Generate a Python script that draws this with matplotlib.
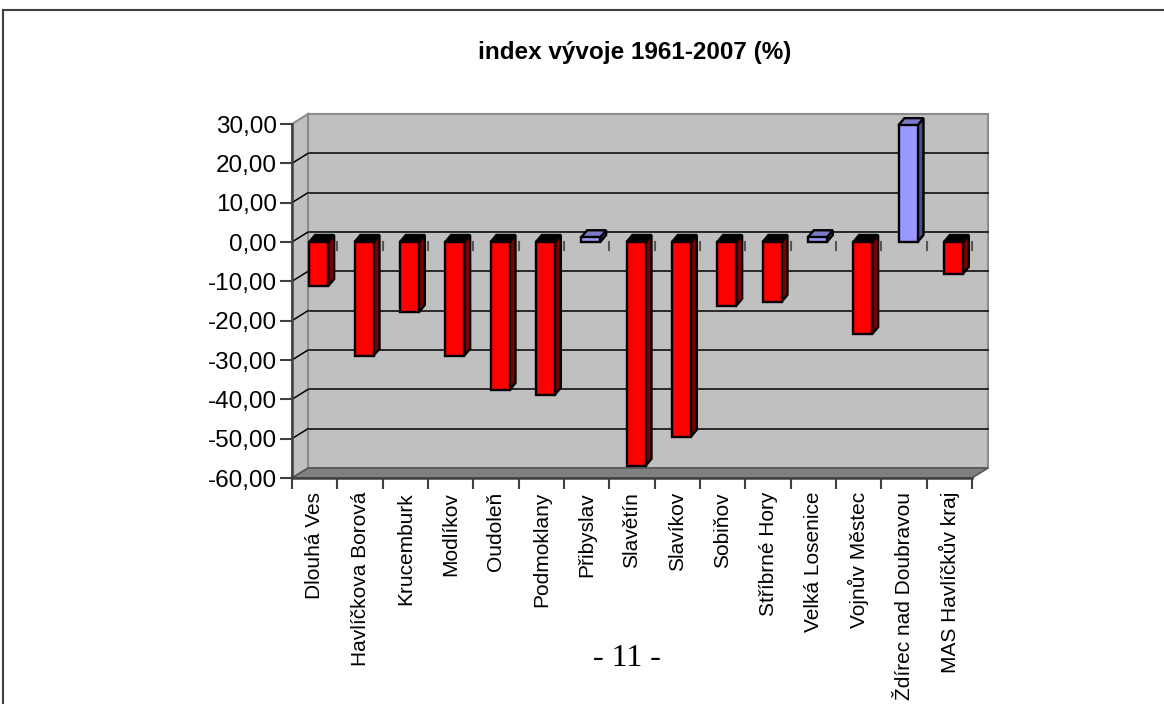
import matplotlib
matplotlib.use("Agg")
import matplotlib.pyplot as plt
from matplotlib.patches import Polygon


# ── Data ───────────────────────────────────────────────────────────
obce = ["Dlouhá Ves", "Havlíčkova Borová", "Krucemburk", "Modlíkov", "Oudoleň",
        "Podmoklany", "Přibyslav", "Slavětín", "Slavíkov", "Sobiňov",
        "Stříbrné Hory", "Velká Losenice", "Vojnův Městec", "Ždírec nad Doubravou",
        "MAS Havlíčkův kraj"]
index_vyvoje = [-11.2, -28.9, -17.8, -28.9, -37.6, -38.8, 1.2, -56.9, -49.5,
                -16.2, -15.2, 1.2, -23.4, 29.7, -8.1]
y_ticks = [30, 20, 10, 0, -10, -20, -30, -40, -50, -60]


# ── Look ───────────────────────────────────────────────────────────
WALL = "#c0c0c0"
FLOOR = "#808080"
EDGE = "#8c8c8c"
NEG_FRONT, NEG_SIDE, NEG_TOP = "#ff0000", "#800000", "#000000"
POS_FRONT, POS_SIDE, POS_TOP = "#9999ff", "#4d4d88", "#7b7bcc"

WALL_DX, WALL_DY = 0.353, 2.54      # depth of the 3D box (category units, value units)
BAR_DX, BAR_DY = 0.13, 1.78         # depth of each column
BAR_OFF, BAR_W = 0.38, 0.42         # column position inside its category slot

YMIN, YMAX = -60, 30
n = len(obce)

fig = plt.figure(figsize=(11.64, 7.04), dpi=100)
ax = fig.add_axes([292 / 1164, 226 / 704, 680 / 1164, 354 / 704])
ax.set_xlim(0, n)
ax.set_ylim(YMIN, YMAX)
ax.set_facecolor("none")


def poly(pts, fc, ec="black", lw=1.7, z=2):
    ax.add_patch(Polygon(pts, closed=True, facecolor=fc, edgecolor=ec,
                         linewidth=lw, zorder=z, clip_on=False, joinstyle="miter"))


# ── 3D box: back wall, side wall, floor ────────────────────────────
poly([(WALL_DX, YMIN + WALL_DY), (n + WALL_DX, YMIN + WALL_DY),
      (n + WALL_DX, YMAX + WALL_DY), (WALL_DX, YMAX + WALL_DY)], WALL, EDGE, 1.5, 0.5)
for v in y_ticks[1:-1]:
    ax.plot([WALL_DX, n + WALL_DX], [v + WALL_DY, v + WALL_DY], color="black",
            lw=1.1, zorder=0.8, clip_on=False)

poly([(0, YMIN), (0, YMAX), (WALL_DX, YMAX + WALL_DY), (WALL_DX, YMIN + WALL_DY)],
     WALL, EDGE, 1.5, 0.9)
for v in y_ticks[1:-1]:
    ax.plot([0, WALL_DX], [v, v + WALL_DY], color="black", lw=1.1, zorder=1, clip_on=False)

poly([(0, YMIN), (n, YMIN), (n + WALL_DX, YMIN + WALL_DY), (WALL_DX, YMIN + WALL_DY)],
     FLOOR, "#555555", 1.2, 1)

# small category ticks at zero
for i in range(1, n + 1):
    ax.plot([i, i], [0, -2.0], color="#555555", lw=1.5, zorder=1.2, clip_on=False)


# ── Columns ────────────────────────────────────────────────────────
for i, v in enumerate(index_vyvoje):
    x0 = i + BAR_OFF
    x1 = x0 + BAR_W
    if v < 0:
        front, side, top = NEG_FRONT, NEG_SIDE, NEG_TOP
        top_y = 0
    else:
        front, side, top = POS_FRONT, POS_SIDE, POS_TOP
        top_y = v
    poly([(x1, 0), (x1 + BAR_DX, BAR_DY), (x1 + BAR_DX, v + BAR_DY), (x1, v)], side, z=3)
    poly([(x0, top_y), (x0 + BAR_DX, top_y + BAR_DY), (x1 + BAR_DX, top_y + BAR_DY),
          (x1, top_y)], top, z=3)
    poly([(x0, 0), (x1, 0), (x1, v), (x0, v)], front, z=4)


# ── Axes ───────────────────────────────────────────────────────────
for s in ["top", "right"]:
    ax.spines[s].set_visible(False)
for s in ["left", "bottom"]:
    ax.spines[s].set_color("#404040")
    ax.spines[s].set_linewidth(1.8)
    ax.spines[s].set_zorder(5)

ax.set_yticks(y_ticks)
ax.set_yticklabels([f"{v:.2f}".replace(".", ",") for v in y_ticks],
                   fontsize=17.5, fontfamily="Liberation Sans")
ax.tick_params(axis="y", length=9, width=1.5, color="#404040", pad=2)

ax.set_xticks(range(n + 1))
ax.set_xticklabels([])
ax.tick_params(axis="x", which="major", length=8, width=1.5, color="#404040")
ax.set_xticks([i + 0.5 for i in range(n)], minor=True)
ax.set_xticklabels(obce, minor=True, rotation=90, fontsize=15,
                   fontfamily="Liberation Sans", va="top", ha="center")
ax.tick_params(axis="x", which="minor", length=0, pad=10)


# ── Page text and frame ────────────────────────────────────────────
fig.text(635 / 1164, 1 - 53 / 704, "index vývoje 1961-2007 (%)", ha="center", va="center",
         fontsize=17.5, fontweight="bold", fontfamily="Liberation Sans")
fig.text(627 / 1164, 1 - 658 / 704, "- 11 -", ha="center", va="center",
         fontsize=23, fontfamily="Liberation Serif")

fig.add_artist(plt.Line2D([3 / 1164, 1], [1 - 10 / 704, 1 - 10 / 704],
                          transform=fig.transFigure, color="#404040", lw=1.5))
fig.add_artist(plt.Line2D([3 / 1164, 3 / 1164], [0, 1 - 10 / 704],
                          transform=fig.transFigure, color="#404040", lw=1.5))

fig.savefig("out.png", dpi=100)
